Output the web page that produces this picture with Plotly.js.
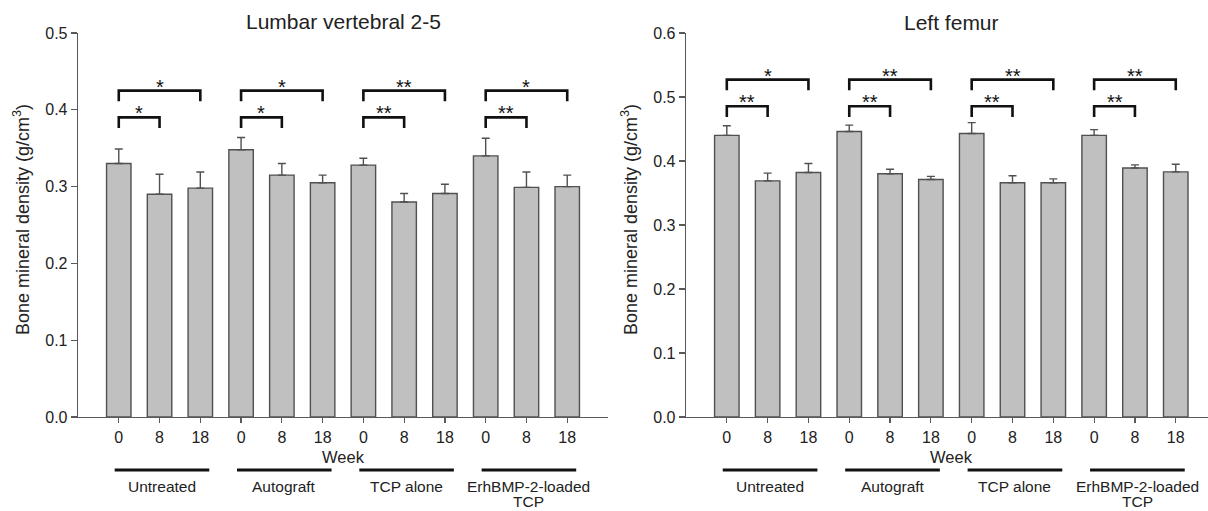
<!DOCTYPE html>
<html>
<head>
<meta charset="utf-8">
<script src="https://cdn.plot.ly/plotly-3.0.1.min.js"></script>
<style>html,body{margin:0;padding:0;background:#fff;}#chart{width:1208px;height:511px;}</style>
</head>
<body>
<div id="chart"></div>
<script>
// ---- data ----
const weeks = ['0', '8', '18'];
const groups = ['Untreated', 'Autograft', 'TCP alone', 'ErhBMP-2-loaded<br>TCP'];
const lumbarMean = [0.330, 0.290, 0.298, 0.348, 0.315, 0.305, 0.328, 0.280, 0.291, 0.340, 0.299, 0.300];
const lumbarErr  = [0.019, 0.026, 0.021, 0.016, 0.015, 0.010, 0.009, 0.011, 0.012, 0.023, 0.020, 0.015];
const femurMean  = [0.440, 0.369, 0.382, 0.446, 0.380, 0.371, 0.443, 0.366, 0.366, 0.440, 0.389, 0.383];
const femurErr   = [0.015, 0.012, 0.014, 0.010, 0.007, 0.005, 0.017, 0.011, 0.006, 0.009, 0.005, 0.012];
const lumbarSig8  = ['*', '*', '**', '**'];
const lumbarSig18 = ['*', '*', '**', '*'];
const femurSig8   = ['**', '**', '**', '**'];
const femurSig18  = ['*', '**', '**', '**'];
const titles = ['Lumbar vertebral 2-5', 'Left femur'];
const yTitle = 'Bone mineral density (g/cm<sup>3</sup>)';
const xTitle = 'Week';

// ---- build ----
const W = 1208, H = 511;
const py = p => (H - p) / H;   // pixel row -> paper y
const px = p => p / W;         // pixel col -> paper x

const xs = [], tickText = [];
groups.forEach((g, gi) => weeks.forEach((w, wi) => { xs.push(gi * 3 + wi); tickText.push(w); }));
const zeros = xs.map(() => 0);

const font = 'Liberation Sans, Arial, sans-serif';
const axisCol = '#595959';
const txtCol = '#222';

function barTrace(y, err, xa, ya) {
  return {
    type: 'bar', x: xs, y: y, xaxis: xa, yaxis: ya, width: 0.6,
    marker: { color: '#c0c0c0', line: { color: '#505050', width: 1.4 } },
    error_y: { type: 'data', symmetric: false, array: err, arrayminus: zeros,
               color: '#505050', thickness: 1.4, width: 4 },
    hoverinfo: 'skip'
  };
}

const data = [
  barTrace(lumbarMean, lumbarErr, 'x', 'y'),
  barTrace(femurMean, femurErr, 'x2', 'y2')
];

function xAx(domain, range, anchor) {
  return { domain: domain, range: range, anchor: anchor, tickvals: xs, ticktext: tickText,
    ticks: 'outside', ticklen: 5, tickwidth: 1.2, tickcolor: axisCol,
    showline: true, linecolor: axisCol, linewidth: 1.3, showgrid: false, zeroline: false,
    tickfont: { family: font, size: 16, color: txtCol }, fixedrange: true };
}
function yAx(range, anchor) {
  return { domain: [py(417), py(33)], range: range, anchor: anchor, dtick: 0.1, tickformat: '.1f',
    ticks: 'outside', ticklen: 6, tickwidth: 1.2, tickcolor: axisCol,
    showline: true, linecolor: axisCol, linewidth: 1.3, showgrid: false, zeroline: false,
    tickfont: { family: font, size: 16, color: txtCol }, fixedrange: true };
}

const shapes = [], annotations = [];

const panels = [
  { xr: 'x', yr: 'y', sig8: lumbarSig8, sig18: lumbarSig18,
    short: [0.3764, 0.3902], long: [0.4111, 0.4250], title: titles[0], titleY: 21, yTitleX: 21 },
  { xr: 'x2', yr: 'y2', sig8: femurSig8, sig18: femurSig18,
    short: [0.4688, 0.4855], long: [0.5105, 0.5272], title: titles[1], titleY: 22, yTitleX: 629 }
];

panels.forEach(p => {
  annotations.push({ text: p.title, xref: p.xr, x: 5.5, yref: 'paper', y: py(p.titleY),
    showarrow: false, xanchor: 'center', yanchor: 'middle', font: { family: font, size: 21, color: txtCol } });
  annotations.push({ text: yTitle, textangle: -90, xref: 'paper', x: px(p.yTitleX), yref: 'paper', y: py(220),
    showarrow: false, xanchor: 'center', yanchor: 'middle', font: { family: font, size: 18, color: txtCol } });
  annotations.push({ text: xTitle, xref: p.xr, x: 5.5, yref: 'paper', y: py(457),
    showarrow: false, xanchor: 'center', yanchor: 'middle', font: { family: font, size: 16.5, color: txtCol } });

  groups.forEach((g, gi) => {
    const s = gi * 3;
    shapes.push({ type: 'line', xref: p.xr, yref: 'paper', x0: s - 0.1, x1: s + 2.22,
      y0: py(470), y1: py(470), line: { color: '#111', width: 3 } });
    const lines = g.split('<br>');
    lines.forEach((ln, li) => {
      const last = li > 0;
      annotations.push({ text: ln, xref: p.xr, x: s + 1.06, yref: 'paper',
        y: last ? py(510.5) : py(486), showarrow: false, xanchor: 'center',
        yanchor: last ? 'bottom' : 'middle', borderpad: 0,
        font: { family: font, size: 15.5, color: txtCol } });
    });

    [[s + 1, p.short, p.sig8[gi]], [s + 2, p.long, p.sig18[gi]]].forEach(([e, lv, sig]) => {
      shapes.push({ type: 'path', xref: p.xr, yref: p.yr,
        path: `M ${s},${lv[0]} L ${s},${lv[1]} L ${e},${lv[1]} L ${e},${lv[0]}`,
        line: { color: '#111', width: 2.6 } });
      annotations.push({ text: sig, xref: p.xr, yref: p.yr, x: (s + e) / 2, y: lv[1],
        yanchor: 'middle', xanchor: 'center', yshift: 4, showarrow: false,
        font: { family: font, size: 20, color: '#111' } });
    });
  });
});

const layout = {
  width: W, height: H, margin: { l: 0, r: 0, t: 0, b: 0, pad: 0 },
  paper_bgcolor: '#fff', plot_bgcolor: '#fff', showlegend: false, bargap: 0,
  xaxis: xAx([px(78), px(608)], [-1, 12], 'y'),
  yaxis: yAx([0, 0.5], 'x'),
  xaxis2: xAx([px(686), 1], [-1, 11.79], 'y2'),
  yaxis2: yAx([0, 0.6], 'x2'),
  shapes: shapes, annotations: annotations
};

Plotly.newPlot('chart', data, layout, { staticPlot: true, displayModeBar: false });
</script>
</body>
</html>
